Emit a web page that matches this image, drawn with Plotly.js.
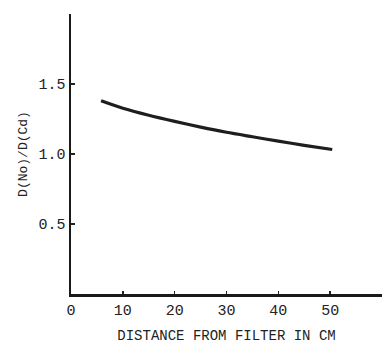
<!DOCTYPE html>
<html>
<head>
<meta charset="utf-8">
<script src="https://cdn.plot.ly/plotly-3.0.1.min.js"></script>
<style>html,body{margin:0;padding:0;background:#fff;}#chart{width:382px;height:344px;}</style>
</head>
<body>
<div id="chart"></div>
<script>
const distance = [5.8, 10, 15, 20, 25, 30, 35, 40, 45, 50.4];
const ratio = [1.38, 1.327, 1.277, 1.233, 1.192, 1.155, 1.123, 1.092, 1.062, 1.032];
const xTicks = [0, 10, 20, 30, 40, 50];
const xTickLabels = ["0", "10", "20", "30", "40", "50"];
const yTicks = [0.5, 1.0, 1.5];
const yTickLabels = ["0.5", "1.0", "1.5"];

const font = "Liberation Mono, DejaVu Sans Mono, monospace";

Plotly.newPlot("chart", [{
  x: distance,
  y: ratio,
  type: "scatter",
  mode: "lines",
  line: {color: "#1e1e1e", width: 3.2, shape: "spline", smoothing: 0.8},
  hoverinfo: "skip"
}], {
  width: 382,
  height: 344,
  margin: {l: 71, r: 0, t: 14, b: 50},
  paper_bgcolor: "#ffffff",
  plot_bgcolor: "#ffffff",
  showlegend: false,
  xaxis: {
    range: [0, 60],
    tickvals: xTicks,
    ticktext: xTickLabels,
    ticks: "inside",
    ticklen: 3,
    tickwidth: 1.5,
    tickcolor: "#222",
    showgrid: false,
    zeroline: false,
    showline: true,
    linecolor: "#1a1a1a",
    linewidth: 2.5,
    tickfont: {family: font, size: 15, color: "#222"},
    title: {text: "DISTANCE FROM FILTER IN CM", font: {family: font, size: 14, color: "#222"}, standoff: 16}
  },
  yaxis: {
    range: [0, 2.0],
    tickvals: yTicks,
    ticktext: yTickLabels,
    ticks: "inside",
    ticklen: 4,
    tickwidth: 1.5,
    tickcolor: "#222",
    showgrid: false,
    zeroline: false,
    showline: true,
    linecolor: "#1a1a1a",
    linewidth: 2.5,
    tickfont: {family: font, size: 15, color: "#222"},
    title: {text: "D(No)/D(Cd)", font: {family: font, size: 13, color: "#222"}, standoff: 8}
  }
}, {displayModeBar: false, staticPlot: true});
</script>
</body>
</html>
